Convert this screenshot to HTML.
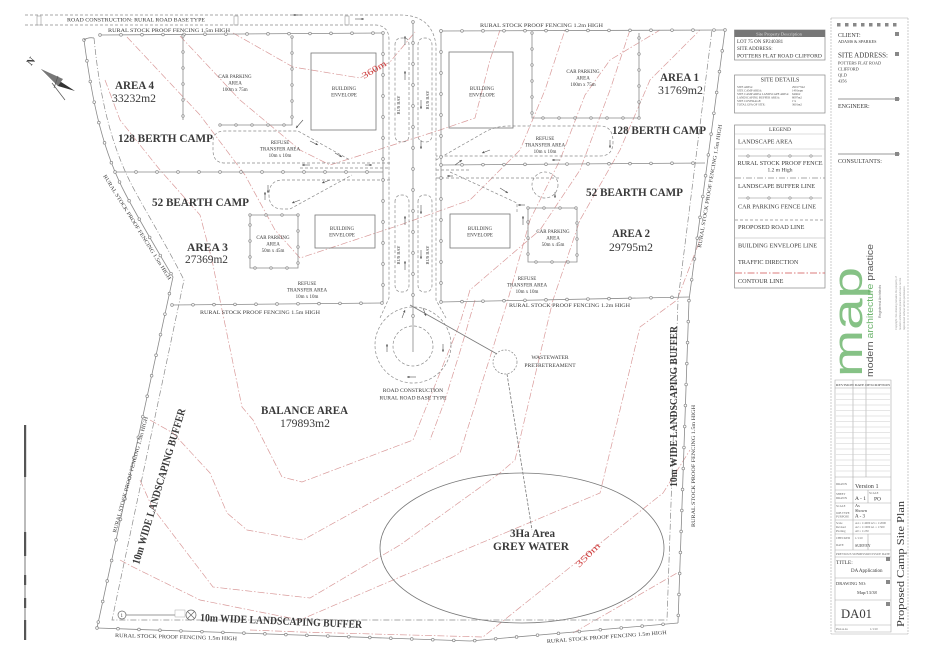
<!DOCTYPE html>
<html><head><meta charset="utf-8"><style>
html,body{margin:0;padding:0;background:#fff}
svg{display:block}
.t{font-family:"Liberation Serif",serif;fill:#3a3a3a}
.s{font-family:"Liberation Sans",sans-serif}
.b{font-weight:bold}
.rd{fill:none;stroke:#8a8a8a;stroke-width:.7;stroke-dasharray:3 2}
.ct{fill:none;stroke:#d99a9a;stroke-width:.7;stroke-dasharray:7 2 1.5 2}
.ln{fill:none;stroke:#7a7a7a;stroke-width:.8}
.bf{fill:none;stroke:#8a8a8a;stroke-width:.7;stroke-dasharray:6 2 1 2}
</style></head><body>
<svg width="928" height="656" viewBox="0 0 928 656" xmlns="http://www.w3.org/2000/svg">
<defs>
<marker id="ar" viewBox="0 0 6 6" refX="6" refY="3" markerWidth="4" markerHeight="4" orient="auto"><path d="M0,0 L6,3 L0,6z" fill="#555"/></marker>
<path id="F1" d="M100,35 L383,33"/>
<path id="F2" d="M84,40 C92,100 102,150 126,195 C142,225 160,255 173,277 L97,628"/>
<path id="F3" d="M97,628 L470,641 L678,623"/>
<path id="F4" d="M725,30 L689,300 L678,623"/>
<path id="F5" d="M115,172 L383,172"/>
<path id="F6" d="M441,165 L705,163"/>
<path id="F7" d="M172,305 L383,303"/>
<path id="F8" d="M441,31 L725,30"/>
<path id="F9" d="M441,302 L689,297"/>
<path id="F10" d="M383,33 L383,303"/>
<path id="F11" d="M441,31 L441,302"/>
<path id="F12" d="M413,22 L413,330"/>
<path id="C1" d="M183,36 V120 M220,125 H292 V36"/>
<path id="C2" d="M532,33 V118 H639 V33"/>
<path id="C3" d="M250,215 H298 V268 H250 Z"/>
<path id="C4" d="M528,208 H577 V262 H528 Z"/>
<path id="LG1" d="M738,156 H822"/>
<path id="LG2" d="M738,198 H822"/>
</defs>
<rect width="928" height="656" fill="#fff"/>

<!-- contours -->
<g class="ct">
<path d="M233,33 L293,67 L360,78 L390,62 L415,32"/>
<path d="M180,36 L240,100 L300,150 L330,165 L440,130 L475,118 L490,60 L500,30"/>
<path d="M127,37 L200,115 L245,175 L275,230 L300,258 L400,225 L470,200 L520,150 L545,90 L565,30"/>
<path d="M105,80 L120,120 L160,170 L200,215 L212,260 L220,300 L242,407 L253,420 L282,477 L302,482 L413,440 L460,323 L470,290 L540,230 L580,170 L610,90 L630,30"/>
<path d="M150,420 L173,433 L210,473 L227,513 L247,530 L303,540 L460,453 L507,303 L530,220 L560,160 L585,95 L610,60 L660,30"/>
<path d="M140,480 L152,507 L213,587 L310,598 L400,545 L500,473 L515,460 L553,300 L580,220 L620,150 L650,80 L700,30"/>
<path d="M120,560 L133,567 L200,600 L300,620 L400,577 L600,493 L640,327 L677,300 L700,240"/>
<path d="M250,630 L300,632 L483,637 L663,493 L690,450"/>
<path d="M573,633 L677,573"/>
<path d="M475,300 L462,345 L445,400 L430,440"/>
</g>

<!-- top road -->
<path class="rd" d="M25,15 H400 Q432,15 436,45 V300 L446,318"/>
<path class="rd" d="M25,25 H376 Q389,26 389,40 V298 L380,318"/>
<path class="rd" d="M395,45 Q395,38 402,38 H404 Q409,38 409,45 V135 Q409,142 402,142 Q395,142 395,135 Z"/>
<path class="rd" d="M418,45 Q418,38 425,38 Q432,38 432,45 V135 Q432,142 425,142 Q418,142 418,135 Z"/>
<path class="rd" d="M395,202 Q395,195 402,195 Q409,195 409,202 V285 Q409,292 402,292 Q395,292 395,285 Z"/>
<path class="rd" d="M418,202 Q418,195 425,195 Q432,195 432,202 V285 Q432,292 425,292 Q418,292 418,285 Z"/>
<circle class="rd" cx="413" cy="345" r="38"/>
<circle class="rd" cx="413" cy="346" r="20"/>
<line x1="413" y1="330" x2="413" y2="352" stroke="#777" stroke-width=".7"/>
<g stroke="#999" stroke-width=".6" fill="none">
<rect x="37" y="16" width="4" height="9"/><rect x="234" y="16" width="4" height="9"/><rect x="345" y="16" width="4" height="9"/>
</g>

<!-- cross roads -->
<path class="rd" d="M390,163 H225 Q213,163 213,150 V142 Q213,131 225,131 H298 L350,160"/>
<path class="rd" d="M390,180 H283 Q269,180 269,195 Q269,209 283,209 H290 L352,175"/>
<path class="rd" d="M436,160 L485,132 Q495,126 510,126 H600 Q613,126 613,142 Q613,156 600,156 H436"/>
<path class="rd" d="M436,178 H560"/>
<path class="rd" d="M450,172 L517,203 V212"/>
<circle class="rd" cx="545" cy="185" r="13"/>
<path class="rd" d="M300,168 H390 M436,170 H470"/>

<!-- fences -->
<g fill="none">
<g stroke="#8a8a8a" stroke-width=".8">
<use href="#F1"/><use href="#F2"/><use href="#F3"/><use href="#F4"/><use href="#F5"/><use href="#F6"/><use href="#F7"/><use href="#F8"/><use href="#F9"/><use href="#F10"/><use href="#F11"/><use href="#F12"/>
<use href="#C1"/><use href="#C2"/><use href="#C3"/><use href="#C4"/>
</g>
<g stroke="#8a8a8a" stroke-width="3.4" stroke-linecap="round" stroke-dasharray="0 21">
<use href="#F1"/><use href="#F2"/><use href="#F3"/><use href="#F4"/><use href="#F5"/><use href="#F6"/><use href="#F7"/><use href="#F8"/><use href="#F9"/><use href="#F10"/><use href="#F11"/><use href="#F12"/>
</g>
<g stroke="#fff" stroke-width="2" stroke-linecap="round" stroke-dasharray="0 21">
<use href="#F1"/><use href="#F2"/><use href="#F3"/><use href="#F4"/><use href="#F5"/><use href="#F6"/><use href="#F7"/><use href="#F8"/><use href="#F9"/><use href="#F10"/><use href="#F11"/><use href="#F12"/>
</g>
<g stroke="#8a8a8a" stroke-width="3.2" stroke-linecap="round" stroke-dasharray="0 16">
<use href="#C1"/><use href="#C2"/><use href="#C3"/><use href="#C4"/>
</g>
<g stroke="#fff" stroke-width="1.8" stroke-linecap="round" stroke-dasharray="0 16">
<use href="#C1"/><use href="#C2"/><use href="#C3"/><use href="#C4"/>
</g>
</g>
<!-- left band & buffers -->
<path class="ln" d="M84,40 Q88,37 94,38"/>
<path class="bf" d="M94,38 C100,100 112,150 136,193 C152,222 170,252 184,280 L112,620 H667 L678,300 L712,30"/>

<!-- buildings -->
<g fill="none" stroke="#777" stroke-width=".8">
<rect x="311" y="53" width="65" height="77"/>
<rect x="449" y="52" width="64" height="76"/>
<rect x="315" y="215" width="60" height="33"/>
<rect x="450" y="214" width="60" height="34"/>
</g>

<!-- wastewater and grey water -->
<path class="ln" d="M410,305 L497,354"/>
<circle cx="505" cy="362" r="12" fill="none" stroke="#888" stroke-width=".7" stroke-dasharray="2 1.5"/>
<path class="ln" d="M507,374 L532,530" stroke-dasharray="3 1.5"/>
<ellipse cx="522" cy="548" rx="142" ry="75" fill="none" stroke="#777" stroke-width=".8"/>

<!-- arrows -->
<g stroke="#555" stroke-width=".6" marker-end="url(#ar)">
<line x1="302" y1="15" x2="293" y2="15"/><line x1="355" y1="19" x2="364" y2="19"/>
<line x1="405" y1="45" x2="405" y2="36"/><line x1="405" y1="80" x2="405" y2="71"/><line x1="421" y1="140" x2="421" y2="149"/><line x1="421" y1="100" x2="421" y2="109"/>
<line x1="405" y1="225" x2="405" y2="216"/><line x1="405" y1="270" x2="405" y2="261"/><line x1="421" y1="205" x2="421" y2="214"/><line x1="421" y1="250" x2="421" y2="259"/>
<line x1="402" y1="318" x2="405" y2="310"/><line x1="423" y1="308" x2="426" y2="316"/><line x1="387" y1="352" x2="387" y2="344"/><line x1="443" y1="344" x2="443" y2="352"/><line x1="416" y1="377" x2="407" y2="377"/>
<line x1="310" y1="141" x2="318" y2="145"/><line x1="335" y1="153" x2="342" y2="157"/><line x1="310" y1="165" x2="302" y2="165"/><line x1="365" y1="165" x2="372" y2="165"/>
<line x1="330" y1="180" x2="322" y2="183"/><line x1="300" y1="200" x2="292" y2="203"/><line x1="268" y1="185" x2="268" y2="193"/>
<line x1="490" y1="150" x2="482" y2="153"/><line x1="560" y1="160" x2="552" y2="160"/><line x1="610" y1="140" x2="610" y2="148"/><line x1="455" y1="165" x2="462" y2="160"/>
<line x1="500" y1="188" x2="508" y2="193"/><line x1="453" y1="176" x2="447" y2="176"/><line x1="555" y1="192" x2="555" y2="198"/><line x1="525" y1="205" x2="518" y2="205"/>
<line x1="523" y1="225" x2="523" y2="216"/><line x1="303" y1="120" x2="296" y2="128"/><line x1="265" y1="200" x2="265" y2="192"/>
</g>

<!-- north arrow -->
<polygon points="41,69 75,91 58,86" fill="#333"/>
<polygon points="41,69 63,79 58,86" fill="#777"/>
<line x1="52" y1="83" x2="65" y2="100" stroke="#555" stroke-width=".7"/>
<line x1="58" y1="76" x2="54" y2="88" stroke="#555" stroke-width=".7"/>
<text class="t b" font-size="10" transform="translate(31,66) rotate(-50)">N</text>

<!-- scale bar -->
<line x1="25" y1="425" x2="25" y2="640" stroke="#777" stroke-width="1"/>
<rect x="24" y="425" width="2.2" height="52" fill="#555"/>
<rect x="24" y="532" width="2.2" height="24" fill="#555"/>
<rect x="24" y="575" width="2.2" height="10" fill="#555"/>
<rect x="24" y="598" width="2.2" height="10" fill="#555"/>
<rect x="24" y="620" width="2.2" height="20" fill="#555"/>

<!-- site entrance symbol -->
<circle cx="122" cy="615" r="4" fill="#fff" stroke="#666" stroke-width=".7"/>
<text class="t" x="120.5" y="617" font-size="5">1</text>
<line x1="126" y1="615" x2="176" y2="615" stroke="#777" stroke-width=".7"/>
<rect x="175" y="610" width="10" height="7" fill="#fff" stroke="#999" stroke-width=".4"/>
<circle cx="191" cy="615" r="5" fill="#fff" stroke="#666" stroke-width=".7"/>
<path d="M187.5,611.5 L194.5,618.5 M194.5,611.5 L187.5,618.5" stroke="#666" stroke-width=".7"/>

<!-- labels -->
<g class="t">
<text x="67" y="21.5" font-size="5.5" textLength="138" lengthAdjust="spacingAndGlyphs">ROAD CONSTRUCTION: RURAL ROAD BASE TYPE</text>
<text x="108" y="32" font-size="5.3" textLength="122" lengthAdjust="spacingAndGlyphs">RURAL STOCK PROOF FENCING 1.5m HIGH</text>
<text x="480" y="27" font-size="5.3" textLength="123" lengthAdjust="spacingAndGlyphs">RURAL STOCK PROOF FENCING 1.2m HIGH</text>
<text x="200" y="314" font-size="5.3" textLength="120" lengthAdjust="spacingAndGlyphs">RURAL STOCK PROOF FENCING 1.5m HIGH</text>
<text x="509" y="307" font-size="5.3" textLength="121" lengthAdjust="spacingAndGlyphs">RURAL STOCK PROOF FENCING 1.2m HIGH</text>
<text font-size="5.3" textLength="123" lengthAdjust="spacingAndGlyphs" transform="translate(103,176) rotate(57.8)">RURAL STOCK PROOF FENCING 1.5m HIGH</text>
<text font-size="5.3" textLength="125" lengthAdjust="spacingAndGlyphs" transform="translate(701,248) rotate(-80.3)">RURAL STOCK PROOF FENCING 1.5m HIGH</text>
<text font-size="5.3" textLength="120" lengthAdjust="spacingAndGlyphs" transform="translate(116,533) rotate(-74.6)">RURAL STOCK PROOF FENCING 1.5m HIGH</text>
<text font-size="5.3" textLength="122" lengthAdjust="spacingAndGlyphs" transform="translate(695,527) rotate(-90)">RURAL STOCK PROOF FENCING 1.5m HIGH</text>
<text font-size="5.3" textLength="122" lengthAdjust="spacingAndGlyphs" transform="translate(115,637) rotate(1.5)">RURAL STOCK PROOF FENCING 1.5m HIGH</text>
<text font-size="5.3" textLength="120" lengthAdjust="spacingAndGlyphs" transform="translate(547,643) rotate(-4.3)">RURAL STOCK PROOF FENCING 1.5m HIGH</text>

<g class="b" font-size="12">
<text x="115" y="89" textLength="39" lengthAdjust="spacingAndGlyphs">AREA 4</text>
<text x="118" y="142" textLength="95" lengthAdjust="spacingAndGlyphs">128 BERTH CAMP</text>
<text x="152" y="206" textLength="97" lengthAdjust="spacingAndGlyphs">52 BEARTH CAMP</text>
<text x="187" y="251" textLength="41" lengthAdjust="spacingAndGlyphs">AREA 3</text>
<text x="660" y="81" textLength="39" lengthAdjust="spacingAndGlyphs">AREA 1</text>
<text x="612" y="134" textLength="94" lengthAdjust="spacingAndGlyphs">128 BERTH CAMP</text>
<text x="586" y="196" textLength="97" lengthAdjust="spacingAndGlyphs">52 BEARTH CAMP</text>
<text x="612" y="237" textLength="38" lengthAdjust="spacingAndGlyphs">AREA 2</text>
<text x="261" y="414" textLength="87" lengthAdjust="spacingAndGlyphs">BALANCE AREA</text>
<text x="493" y="550" textLength="76" lengthAdjust="spacingAndGlyphs">GREY WATER</text>
<text x="200" y="621" textLength="162" lengthAdjust="spacingAndGlyphs" font-size="11" transform="rotate(2.5 200 621)">10m WIDE LANDSCAPING BUFFER</text>
<text textLength="162" lengthAdjust="spacingAndGlyphs" font-size="11" transform="translate(139,565) rotate(-73.3)">10m WIDE LANDSCAPING BUFFER</text>
<text textLength="161" lengthAdjust="spacingAndGlyphs" font-size="11" transform="translate(677,487) rotate(-90)">10m WIDE LANDSCAPING BUFFER</text>
</g>
<g font-size="12">
<text x="112" y="102" textLength="44" lengthAdjust="spacingAndGlyphs">33232m2</text>
<text x="185" y="263" textLength="43" lengthAdjust="spacingAndGlyphs">27369m2</text>
<text x="658" y="94" textLength="45" lengthAdjust="spacingAndGlyphs">31769m2</text>
<text x="609" y="251" textLength="44" lengthAdjust="spacingAndGlyphs">29795m2</text>
<text x="280" y="427" textLength="50" lengthAdjust="spacingAndGlyphs">179893m2</text>
<text x="510" y="537" textLength="45" lengthAdjust="spacingAndGlyphs" class="b">3Ha Area</text>
</g>

<g font-size="5" text-anchor="middle">
<text x="235" y="78">CAR PARKING</text><text x="235" y="84.5">AREA</text><text x="235" y="91">100m x 75m</text>
<text x="583" y="73">CAR PARKING</text><text x="583" y="79.5">AREA</text><text x="583" y="86">100m x 75m</text>
<text x="273" y="239">CAR PARKING</text><text x="273" y="245.5">AREA</text><text x="273" y="252">50m x 45m</text>
<text x="553" y="233">CAR PARKING</text><text x="553" y="239.5">AREA</text><text x="553" y="246">50m x 45m</text>
<text x="344" y="90">BUILDING</text><text x="344" y="96.5">ENVELOPE</text>
<text x="482" y="90">BUILDING</text><text x="482" y="96.5">ENVELOPE</text>
<text x="342" y="230">BUILDING</text><text x="342" y="236.5">ENVELOPE</text>
<text x="480" y="230">BUILDING</text><text x="480" y="236.5">ENVELOPE</text>
<text x="280" y="144">REFUSE</text><text x="280" y="150.5">TRANSFER AREA</text><text x="280" y="157">10m x 10m</text>
<text x="545" y="140">REFUSE</text><text x="545" y="146.5">TRANSFER AREA</text><text x="545" y="153">10m x 10m</text>
<text x="307" y="285">REFUSE</text><text x="307" y="291.5">TRANSFER AREA</text><text x="307" y="298">10m x 10m</text>
<text x="527" y="280">REFUSE</text><text x="527" y="286.5">TRANSFER AREA</text><text x="527" y="293">10m x 10m</text>
<text x="413" y="392" font-size="5.6">ROAD CONSTRUCTION</text>
<text x="413" y="399.5" font-size="5.6">RURAL ROAD BASE TYPE</text>
<text x="550" y="359" font-size="5.6">WASTEWATER</text>
<text x="550" y="367" font-size="5.6">PRETRETREAMENT</text>
<text font-size="4.5" transform="translate(400,105) rotate(-90)">BUS BAY</text>
<text font-size="4.5" transform="translate(429,100) rotate(-90)">BUS BAY</text>
<text font-size="4.5" transform="translate(400,255) rotate(-90)">BUS BAY</text>
<text font-size="4.5" transform="translate(429,255) rotate(-90)">BUS BAY</text>
</g>
<text font-size="9" fill="#d04040" style="fill:#d04040" textLength="27" lengthAdjust="spacingAndGlyphs" transform="translate(364,79) rotate(-31)">360m</text>
<text font-size="9" style="fill:#d04040" textLength="31" lengthAdjust="spacingAndGlyphs" transform="translate(579,568) rotate(-45)">350m</text>
</g>

<!-- right info boxes -->
<g fill="none" stroke="#888" stroke-width=".7">
<rect x="734.5" y="30" width="90.5" height="30"/>
<rect x="734.5" y="75" width="90.5" height="38"/>
<rect x="734.5" y="125" width="90.5" height="163"/>
</g>
<rect x="734.5" y="30" width="90.5" height="7" fill="#777"/>
<g class="t">
<text x="779" y="35.5" font-size="4.5" text-anchor="middle" style="fill:#ddd">Site Property Description</text>
<text x="737" y="43" font-size="5">LOT 75 ON SP240381</text>
<text x="737" y="50" font-size="5">SITE ADDRESS:</text>
<text x="737" y="57.5" font-size="5" textLength="85" lengthAdjust="spacingAndGlyphs">POTTERS FLAT ROAD CLIFFORD</text>
<text x="780" y="81.5" font-size="6" text-anchor="middle">SITE DETAILS</text>
<g font-size="3" style="fill:#555">
<text x="737" y="88">SITE AREA:</text><text x="792" y="88">290177m2</text>
<text x="737" y="91.5">SITE CAMP AREA:</text><text x="792" y="91.5">1491sqm</text>
<text x="737" y="95">SITE CAMP AREA LANDSCAPE AREA:</text><text x="792" y="95">640m2</text>
<text x="737" y="98.5">LANDSCAPING BUFFER AREA:</text><text x="792" y="98.5">8097m2</text>
<text x="737" y="102">SITE COVERAGE:</text><text x="792" y="102">1%</text>
<text x="737" y="105.5">TOTAL GFA OF SITE:</text><text x="792" y="105.5">3601m2</text>
</g>
<text x="780" y="131" font-size="5.5" text-anchor="middle">LEGEND</text>
<g font-size="6.2">
<text x="738" y="143.5">LANDSCAPE AREA</text>
<text x="780" y="165" text-anchor="middle">RURAL STOCK PROOF FENCE</text>
<text x="780" y="171.5" text-anchor="middle" font-size="5.5">1.2 m High</text>
<text x="738" y="188">LANDSCAPE BUFFER LINE</text>
<text x="738" y="208.5">CAR PARKING FENCE LINE</text>
<text x="738" y="229">PROPOSED ROAD LINE</text>
<text x="738" y="247.5">BUILDING ENVELOPE LINE</text>
<text x="738" y="264">TRAFFIC DIRECTION</text>
<text x="738" y="283">CONTOUR LINE</text>
</g>
</g>
<g fill="none">
<line x1="735" y1="134" x2="825" y2="134" stroke="#bbb" stroke-width=".5"/>
<line x1="735" y1="149" x2="825" y2="149" stroke="#bbb" stroke-width=".5"/>
<use href="#LG1" stroke="#888" stroke-width=".6"/>
<use href="#LG1" stroke="#888" stroke-width="3" stroke-linecap="round" stroke-dasharray="0 21" stroke-dashoffset="-10"/>
<use href="#LG1" stroke="#fff" stroke-width="1.7" stroke-linecap="round" stroke-dasharray="0 21" stroke-dashoffset="-10"/>
<line x1="735" y1="178" x2="825" y2="178" class="bf"/>
<use href="#LG2" stroke="#888" stroke-width=".6"/>
<use href="#LG2" stroke="#888" stroke-width="3" stroke-linecap="round" stroke-dasharray="0 21" stroke-dashoffset="-10"/>
<use href="#LG2" stroke="#fff" stroke-width="1.7" stroke-linecap="round" stroke-dasharray="0 21" stroke-dashoffset="-10"/>
<line x1="735" y1="220" x2="825" y2="220" class="rd"/>
<line x1="735" y1="238" x2="825" y2="238" stroke="#aaa" stroke-width=".6"/>
<line x1="735" y1="273" x2="825" y2="273" class="ct" style="stroke:#d05050"/>
</g>

<!-- title block -->
<g fill="none" stroke="#aaa" stroke-width=".6">
<path d="M831,18 V634 M908,18 V634" stroke-dasharray="2 1"/>
<path d="M831,18 H908 M831,634 H908"/>
<path d="M838,99 H900 M838,154 H900" stroke="#777" stroke-width=".8"/>
<path d="M835,380 H891 V632 H835 Z"/>
<path d="M835,388 H891 M835,477 H891 M835,490 H891 M835,503 H891 M835,520 H891 M835,534 H891 M835,550 H891 M835,557 H891 M835,578 H891 M835,600 H891 M835,625 H891"/>
<path d="M853,477 V550 M868,490 V503 M868,534 V550 M853,380 V477 M866,380 V477"/>
</g>
<g stroke="#ccc" stroke-width=".5">
<path d="M836,394 H890 M836,399.5 H890 M836,405 H890 M836,410.5 H890 M836,416 H890 M836,421.5 H890 M836,427 H890 M836,432.5 H890 M836,438 H890 M836,443.5 H890 M836,449 H890 M836,454.5 H890 M836,460 H890 M836,465.5 H890 M836,471 H890"/>
</g>
<g fill="#888">
<rect x="837" y="23" width="3.5" height="3.5"/><rect x="845" y="23" width="3.5" height="3.5"/><rect x="853" y="23" width="3.5" height="3.5"/><rect x="861" y="23" width="3.5" height="3.5"/><rect x="869" y="23" width="3.5" height="3.5"/><rect x="877" y="23" width="3.5" height="3.5"/><rect x="885" y="23" width="3.5" height="3.5"/><rect x="893" y="23" width="3.5" height="3.5"/>
<rect x="895" y="32" width="4" height="4"/><rect x="895" y="52" width="4" height="4"/><rect x="895" y="97" width="4" height="4"/><rect x="895" y="152" width="4" height="4"/>
<rect x="886" y="557" width="4" height="4"/><rect x="886" y="580" width="4" height="4"/><rect x="886" y="602" width="4" height="4"/>
</g>
<g class="t">
<text x="838" y="37" font-size="6">CLIENT:</text>
<text x="838" y="43" font-size="4.2">ADAMS &amp; SPARKES</text>
<text x="838" y="57.5" font-size="7" textLength="50" lengthAdjust="spacingAndGlyphs">SITE ADDRESS:</text>
<text x="838" y="64.5" font-size="4.3">POTTERS FLAT ROAD</text>
<text x="838" y="70.5" font-size="4.3">CLIFFORD</text>
<text x="838" y="76.5" font-size="4.3">QLD</text>
<text x="838" y="82.5" font-size="4.3">4356</text>
<text x="838" y="108" font-size="6">ENGINEER:</text>
<text x="838" y="163" font-size="6">CONSULTANTS:</text>
<text x="836" y="386" font-size="3.2" textLength="54" lengthAdjust="spacingAndGlyphs">REVISION   DATE    DESCRIPTION</text>
<g font-size="3" style="fill:#666">
<text x="836" y="485">DRAWN</text><text x="836" y="495">SHEET</text><text x="836" y="499">DRAWN</text>
<text x="869" y="494">SCALE</text><text x="836" y="507">SCALE</text><text x="836" y="514">JOB TYPE</text><text x="836" y="517.5">PURPOSE</text>
<text x="836" y="524">Scale</text><text x="836" y="528">Revised</text><text x="836" y="532">Plotting</text>
<text x="855" y="524">A4 = 1:4000 A3 = 1:2000</text><text x="855" y="528">A2 = 1:1000 A1 = 1:500</text><text x="855" y="532">A0 = 1:250</text>
<text x="836" y="539">CHECKED</text><text x="836" y="546">DATE</text><text x="855" y="539">1/1/10</text>
<text x="836" y="555" textLength="54" lengthAdjust="spacingAndGlyphs">PREVIOUS SUBMISSION   ISSUE DATE</text>
<text x="836" y="630">Plan A.4a</text><text x="870" y="630">1/1/10</text>
</g>
<text x="855" y="488" font-size="6.2">Version 1</text>
<text x="855" y="500" font-size="5.5">A - 1</text>
<text x="874" y="500.5" font-size="5.5">PO</text>
<text x="855" y="507" font-size="4.3">As</text>
<text x="855" y="512" font-size="4.3">Shown</text>
<text x="855" y="517.5" font-size="5">A - 3</text>
<text x="855" y="547" font-size="4">SURVEY</text>
<text x="836" y="564" font-size="5.5">TITLE:</text>
<text x="851" y="572" font-size="5">DA Application</text>
<text x="836" y="585" font-size="4.5">DRAWING NO:</text>
<text x="857" y="594" font-size="4.5">Map/13/38</text>
<text x="841" y="618" font-size="13" textLength="31" lengthAdjust="spacingAndGlyphs">DA01</text>
<text font-size="11" textLength="126" lengthAdjust="spacingAndGlyphs" transform="translate(904,627) rotate(-90)">Proposed Camp Site Plan</text>
</g>
<!-- logo -->
<text class="s" font-size="42" textLength="110" lengthAdjust="spacingAndGlyphs" transform="translate(862,377) rotate(-90)" style="fill:#86c286">map</text>
<text class="s" font-size="9.5" textLength="133" lengthAdjust="spacingAndGlyphs" transform="translate(873,377) rotate(-90)" style="fill:#555">modern <tspan style="fill:#6cb36c">architecture</tspan> practice</text>
<text class="s" font-size="3.5" transform="translate(881,318) rotate(-90)" style="fill:#777">Registered Architects</text>
<g class="s" font-size="2.6" style="fill:#999">
<text transform="translate(897,330) rotate(-90)">Copyright: this drawing remains the property of</text>
<text transform="translate(901,330) rotate(-90)">modern architecture practice and must not be</text>
<text transform="translate(905,330) rotate(-90)">reproduced without written permission.</text>
</g>
</svg>
</body></html>
